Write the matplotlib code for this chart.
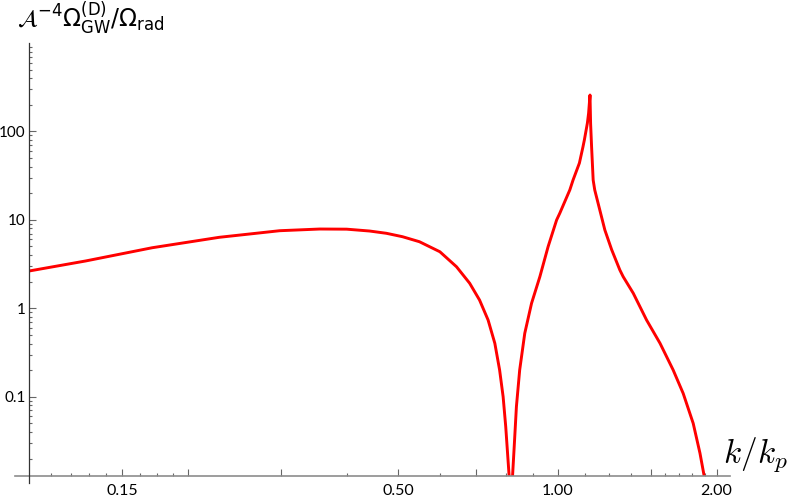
import matplotlib
matplotlib.use("Agg")
import matplotlib.pyplot as plt
import matplotlib.ticker as mticker

# values (k/k_p, A^-4 Omega_GW / Omega_rad)
k_ratio = [0.100, 0.128, 0.171, 0.229, 0.298, 0.355, 0.399, 0.441, 0.4745, 0.509,
           0.548, 0.599, 0.644, 0.682, 0.712, 0.739, 0.761, 0.777, 0.789, 0.798,
           0.806, 0.810, 0.816, 0.822, 0.828, 0.836, 0.848, 0.867, 0.893, 0.926,
           0.960, 0.996, 1.010, 1.055, 1.070, 1.100, 1.117, 1.124, 1.139, 1.145,
           1.150, 1.152, 1.155, 1.160, 1.168, 1.176, 1.229, 1.266, 1.312, 1.331,
           1.391, 1.474, 1.563, 1.655, 1.729, 1.806, 1.860, 1.893, 1.910]
omega = [2.64, 3.43, 4.84, 6.35, 7.54, 7.88, 7.85, 7.48, 7.05, 6.45,
         5.66, 4.36, 2.95, 1.92, 1.24, 0.737, 0.402, 0.2006, 0.100, 0.0459,
         0.0193, 0.0126, 0.001, 0.0126, 0.0272, 0.0772, 0.2006, 0.522, 1.139, 2.28,
         5.0, 9.96, 11.9, 21.8, 28.2, 43.9, 66.6, 80.0, 124.5, 161.0,
         226.0, 258.0, 123.0, 67.0, 28.2, 21.8, 7.68, 4.6, 2.71, 2.28,
         1.48, 0.737, 0.402, 0.2006, 0.109, 0.050, 0.023, 0.013, 0.004]

x_major = [0.15, 0.2, 0.3, 0.5, 0.7, 1.0, 1.5, 2.0]
x_major_labels = ["0.15", "", "", "0.50", "", "1.00", "", "2.00"]
x_minor = [0.11, 0.12, 0.13, 0.14, 0.1625, 0.175, 0.1875, 0.4, 0.6, 0.8, 0.9,
           1.125, 1.25, 1.375, 1.6, 1.7, 1.8, 1.9]
y_major = [0.1, 1, 10, 100]
y_major_labels = ["0.1", "1", "10", "100"]

W, H = 789, 497
fig = plt.figure(figsize=(W / 100, H / 100), dpi=100)
ax = fig.add_axes([29 / W, 1 - 476 / H, (730 - 29) / W, (476 - 43) / H])

ax.plot(k_ratio, omega, color="#ff0000", lw=2.1, solid_joinstyle="round")

ax.set_xscale("log")
ax.set_yscale("log")
ax.set_xlim(0.1, 2.12)
ax.set_ylim(0.0127, 1000)

ax.set_xticks(x_major)
ax.set_xticklabels(x_major_labels)
ax.set_xticks(x_minor, minor=True)
ax.xaxis.set_minor_formatter(mticker.NullFormatter())

ax.set_yticks(y_major)
ax.set_yticklabels(y_major_labels)
ax.yaxis.set_minor_locator(mticker.LogLocator(base=10, subs=range(2, 10), numticks=20))
ax.yaxis.set_minor_formatter(mticker.NullFormatter())

for s in ax.spines.values():
    s.set_visible(False)

# Mathematica-style axes that overshoot the origin a little
ax.plot([-0.02, 1.0], [0, 0], transform=ax.transAxes, clip_on=False,
        color="#8c8c8c", lw=1.2)
ax.plot([0, 0], [-0.016, 1.0], transform=ax.transAxes, clip_on=False,
        color="#333333", lw=0.9)

ax.tick_params(which="both", direction="in", color="#666666", width=0.8,
               labelsize=11, labelfontfamily="Lato")
ax.tick_params(which="major", length=4.7)
ax.tick_params(which="minor", length=2.0)
ax.tick_params(axis="x", which="both", pad=5.5, labelsize=11.5)
ax.tick_params(axis="y", which="both", pad=2.5)

fig.text(17 / W, 1 - 27 / H,
         r"$\mathcal{A}^{-4}\Omega_{\mathrm{GW}}^{(\mathrm{D})}/\Omega_{\mathrm{rad}}$",
         fontsize=17, ha="left", va="baseline")
fig.text(723 / W, 1 - 462 / H, r"$k/k_p$", math_fontfamily="cm",
         fontsize=24, ha="left", va="baseline")

fig.savefig("out.png", dpi=100)
